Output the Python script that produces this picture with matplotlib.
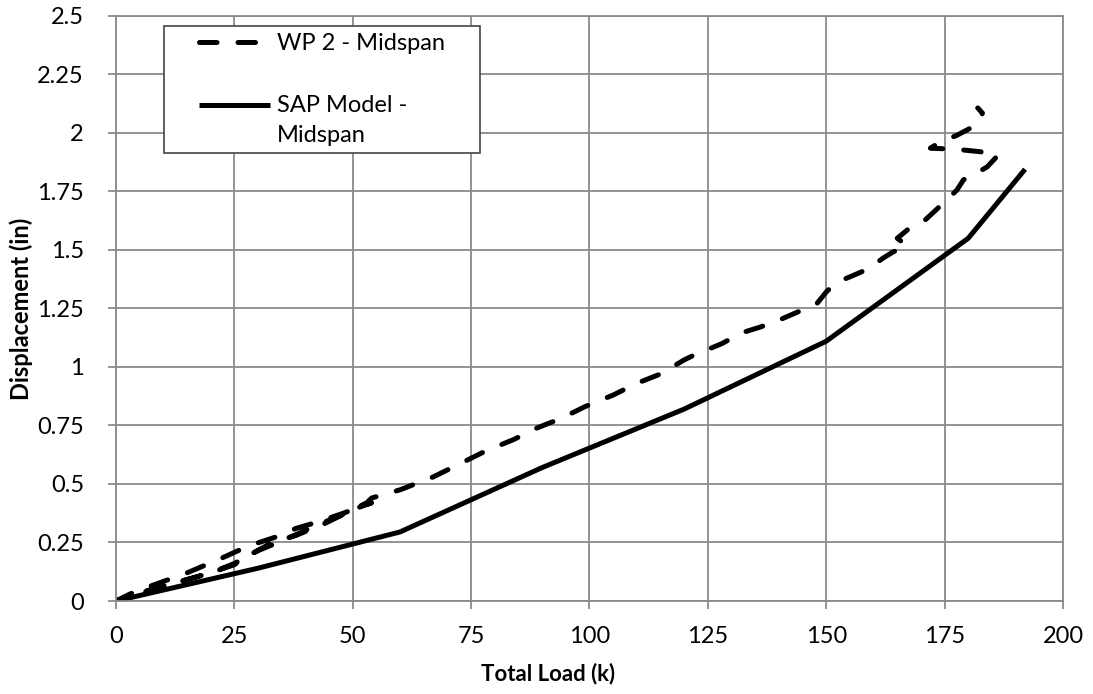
import numpy as np
import matplotlib.pyplot as plt
from matplotlib.legend_handler import HandlerLine2D

# WP 2 test data (load in k, displacement in in)
wp2_load = [0, 3, 7.5, 15, 22, 28, 34, 38, 43, 48, 52, 54,
            50, 44, 38, 33, 29, 25, 20, 13, 7, 2, 0.5,
            5, 13, 20, 25, 30, 36, 42, 48, 53, 54, 60, 67, 73, 78, 84, 89,
            94, 99, 105, 110, 115, 120, 122, 128, 132, 136, 140, 144, 148,
            150, 152, 155, 159, 162, 164, 167, 165, 168, 171, 175, 177.6,
            179, 181, 184, 186.3, 182.5, 177.6, 172, 174, 177.6, 180.4,
            182.5, 183, 182]
wp2_disp = [0, 0.03, 0.065, 0.12, 0.18, 0.235, 0.275, 0.31, 0.34, 0.375, 0.405, 0.42,
            0.39, 0.33, 0.28, 0.25, 0.205, 0.155, 0.12, 0.08, 0.045, 0.012, 0.003,
            0.035, 0.08, 0.12, 0.16, 0.215, 0.265, 0.32, 0.37, 0.42, 0.44, 0.475, 0.53, 0.59, 0.64, 0.69, 0.74,
            0.78, 0.83, 0.88, 0.93, 0.97, 1.03, 1.05, 1.10, 1.145, 1.17, 1.2, 1.235, 1.27,
            1.32, 1.36, 1.385, 1.42, 1.465, 1.49, 1.52, 1.55, 1.60, 1.63, 1.705, 1.756,
            1.80, 1.82, 1.855, 1.905, 1.92, 1.93, 1.935, 1.96, 1.99, 2.02,
            2.05, 2.085, 2.107]

# SAP model
sap_load = [0, 30, 60, 90, 120, 150, 180, 192]
sap_disp = [0, 0.14, 0.295, 0.57, 0.82, 1.11, 1.55, 1.845]

x_ticks = [0, 25, 50, 75, 100, 125, 150, 175, 200]
y_ticks = [0, 0.25, 0.5, 0.75, 1, 1.25, 1.5, 1.75, 2, 2.25, 2.5]
y_labels = ['0', '0.25', '0.5', '0.75', '1', '1.25', '1.5', '1.75', '2', '2.25', '2.5']


class ExcelHandler(HandlerLine2D):
    # shorter line, sitting next to the first text line (like Excel)
    def __init__(self, dy=0.0, **kw):
        super().__init__(**kw)
        self.dy = dy

    def create_artists(self, legend, orig_handle, xdescent, ydescent, width, height, fontsize, trans):
        arts = super().create_artists(legend, orig_handle, xdescent, ydescent,
                                      width, height, fontsize, trans)
        for a in arts:
            xd = np.asarray(a.get_xdata(), dtype=float)
            a.set_xdata(np.linspace(xd[0] + 20, xd[-1], len(xd)))
            a.set_ydata(np.asarray(a.get_ydata()) + self.dy)
        return arts


plt.rcParams['font.family'] = ['Lato', 'DejaVu Sans']
grid_col = '#8a8a8a'

fig = plt.figure(figsize=(10.93, 6.94), dpi=100)
ax = fig.add_axes([0.106, 0.134, 0.8665, 0.843])

l1, = ax.plot(wp2_load, wp2_disp, color='black', lw=3.6, dashes=(3.5, 4.2),
              dash_capstyle='round', solid_joinstyle='round', label='WP 2 - Midspan')
l2, = ax.plot(sap_load, sap_disp, color='black', lw=3.6, solid_capstyle='butt',
              label='SAP Model -\nMidspan')

ax.set_xlim(0, 200)
ax.set_ylim(0, 2.5)
ax.set_xticks(x_ticks)
ax.set_yticks(y_ticks)
ax.set_yticklabels(y_labels)
ax.grid(True, color=grid_col, lw=1.3)
ax.set_axisbelow(True)
for s in ax.spines.values():
    s.set_color(grid_col)
    s.set_linewidth(1.3)
ax.tick_params(axis='both', color=grid_col, length=6, width=1.3, labelsize=17)
ax.tick_params(axis='x', pad=12)
ax.tick_params(axis='y', pad=17)

ax.set_xlabel('Total Load (k)', fontsize=16, fontweight='bold')
ax.set_ylabel('Displacement (in)', fontsize=17, fontweight='bold')
ax.xaxis.set_label_coords(0.456, -0.105)
ax.yaxis.set_label_coords(-0.087, 0.5)

leg = ax.legend(handles=[l1, l2],
                handler_map={l1: ExcelHandler(0.0), l2: ExcelHandler(11.5)},
                loc='upper left', bbox_to_anchor=(0.0507, 0.983, 0.334, 0), mode='expand',
                fontsize=17, frameon=True, fancybox=False, edgecolor='#444444', framealpha=1,
                handlelength=4.2, handletextpad=0.3, labelspacing=1.75,
                borderpad=0.3, borderaxespad=0)
leg.get_frame().set_linewidth(1.2)
leg.get_texts()[1].set_linespacing(1.5)

fig.savefig('out.png', dpi=100)
